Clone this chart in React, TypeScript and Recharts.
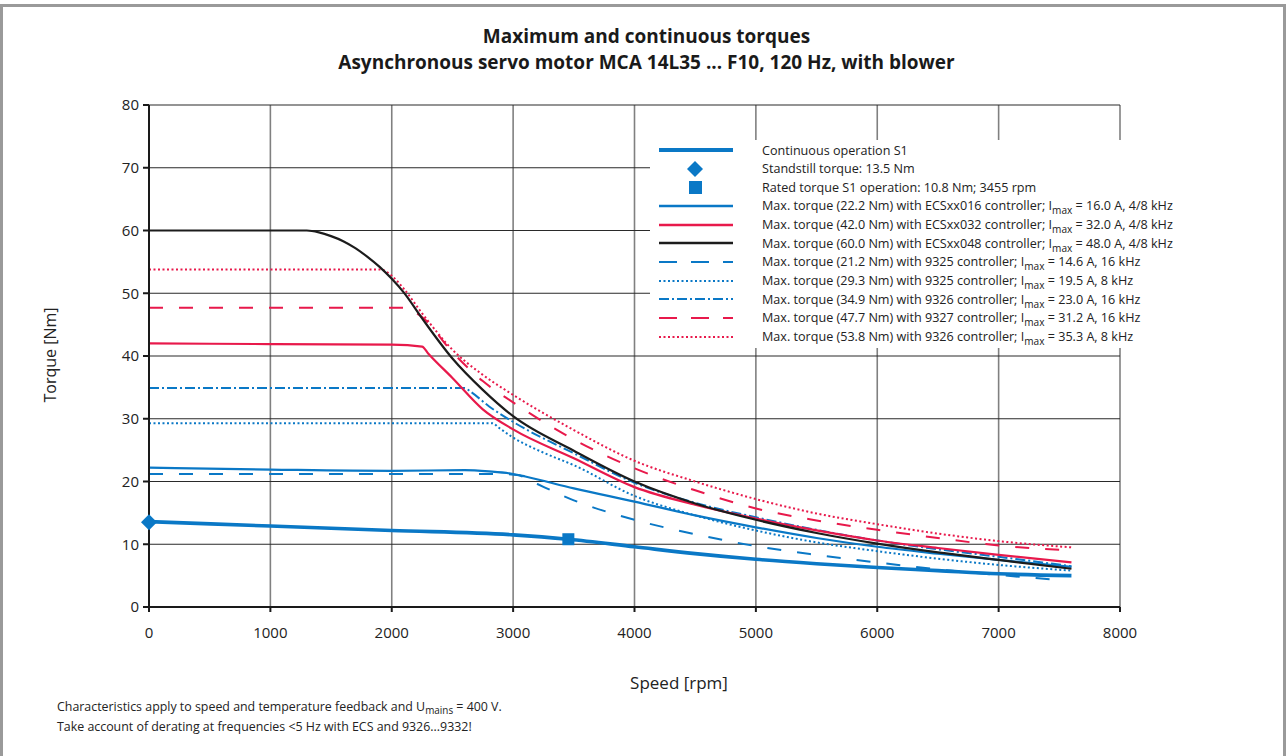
import React from 'react';
import { ComposedChart, Line, Scatter, XAxis, YAxis, CartesianGrid } from 'recharts';

// axis ticks
const speedTicks = [0, 1000, 2000, 3000, 4000, 5000, 6000, 7000, 8000];
const torqueTicks = [0, 10, 20, 30, 40, 50, 60, 70, 80];

// Continuous operation S1
const contSpeed = [0, 1000, 2000, 3000, 3455, 4000, 4500, 5000, 5500, 6000, 6500, 7000, 7600];
const contTorque = [13.6, 12.9, 12.2, 11.5, 10.8, 9.6, 8.5, 7.6, 6.9, 6.3, 5.8, 5.3, 5.0];

// markers
const standstill = [{ n: 0, t: 13.5 }];
const rated = [{ n: 3455, t: 10.8 }];

// ECSxx016, 22.2 Nm
const ecs016Speed = [0, 1000, 2000, 2600, 2800, 3000, 3100, 3500, 4000, 4500, 5000, 5500, 6000, 6500, 7000, 7600];
const ecs016Torque = [22.2, 21.9, 21.7, 21.8, 21.6, 21.2, 20.8, 18.9, 16.8, 14.6, 12.7, 11.0, 9.6, 8.5, 7.5, 6.4];

// ECSxx032, 42.0 Nm
const ecs032Speed = [0, 1000, 2000, 2250, 2300, 2500, 2750, 3000, 3500, 4000, 4500, 5000, 5500, 6000, 6500, 7000, 7600];
const ecs032Torque = [42.0, 41.9, 41.8, 41.5, 40.4, 36.5, 31.5, 28.3, 23.7, 19.1, 16.3, 14.1, 12.2, 10.6, 9.4, 8.3, 7.1];

// ECSxx048, 60.0 Nm
const ecs048Speed = [0, 1000, 1300, 1400, 1500, 1600, 1700, 1800, 1900, 2000, 2100, 2250, 2500, 2750, 3000, 3500, 4000, 4500, 5000, 5500, 6000, 6500, 7000, 7600];
const ecs048Torque = [60, 60, 60, 59.7, 59.1, 58.3, 57.2, 55.8, 54.2, 52.3, 50.1, 46.0, 39.6, 34.6, 30.4, 24.9, 20.0, 16.5, 13.9, 11.8, 10.1, 8.7, 7.5, 6.1];

// 9325, 21.2 Nm, 16 kHz
const c9325aSpeed = [0, 1000, 2000, 2900, 3050, 3100, 3200, 3500, 4000, 4500, 5000, 5500, 6000, 6500, 7000, 7500];
const c9325aTorque = [21.2, 21.2, 21.2, 21.2, 21.0, 20.5, 19.6, 17.0, 13.9, 11.6, 9.7, 8.3, 7.1, 6.0, 5.1, 4.3];

// 9325, 29.3 Nm, 8 kHz
const c9325bSpeed = [0, 1000, 2000, 2830, 2880, 3000, 3250, 3500, 4000, 4500, 5000, 5500, 6000, 6500, 7000, 7600];
const c9325bTorque = [29.3, 29.3, 29.3, 29.3, 28.6, 27.0, 24.6, 22.6, 17.7, 14.6, 12.2, 10.3, 8.9, 7.7, 6.7, 5.8];

// 9326, 34.9 Nm, 16 kHz
const c9326aSpeed = [0, 1000, 2000, 2600, 2650, 2800, 3000, 3500, 4000, 4500, 5000, 5500, 6000, 6500, 7000, 7600];
const c9326aTorque = [34.9, 34.9, 34.9, 34.9, 34.3, 32.0, 29.5, 24.5, 19.8, 16.6, 14.3, 12.3, 10.6, 9.2, 8.0, 6.5];

// 9327, 47.7 Nm, 16 kHz
const c9327Speed = [0, 1000, 2000, 2130, 2180, 2250, 2500, 2750, 3000, 3500, 4000, 4500, 5000, 5500, 6000, 6500, 7000, 7600];
const c9327Torque = [47.7, 47.7, 47.7, 47.7, 47.1, 46.2, 40.6, 36.0, 32.6, 26.7, 22.1, 18.6, 15.7, 13.8, 12.3, 11.0, 9.8, 9.0];

// 9326, 53.8 Nm, 8 kHz
const c9326bSpeed = [0, 1000, 1900, 1950, 2000, 2100, 2250, 2500, 2750, 3000, 3500, 4000, 4500, 5000, 5500, 6000, 6500, 7000, 7600];
const c9326bTorque = [53.8, 53.8, 53.8, 53.5, 52.8, 50.7, 46.8, 41.0, 37.0, 33.8, 28.2, 23.3, 20.0, 17.2, 14.9, 13.2, 11.7, 10.5, 9.5];

const pts = (speed: number[], torque: number[]) => speed.map((n, i) => ({ n, t: torque[i] }));

const BLUE = '#0a78c6';
const RED = '#e8194b';
const BLACK = '#1c1c1c';
const FONT = '"Open Sans", sans-serif';

const Diamond = (props: any) => {
  const { cx, cy } = props;
  return <polygon points={`${cx},${cy - 8} ${cx + 8},${cy} ${cx},${cy + 8} ${cx - 8},${cy}`} fill={BLUE} />;
};

const Square = (props: any) => {
  const { cx, cy } = props;
  return <rect x={cx - 6} y={cy - 6} width={12} height={12} fill={BLUE} />;
};

const Imax = () => (
  <>I<sub style={{ fontSize: '0.8em', verticalAlign: '-0.35em', lineHeight: 0 }}>max</sub></>
);

type LegendRow = { sample: React.ReactNode; text: React.ReactNode };

const lineSample = (color: string, width: number, dash?: string) => (
  <svg width={80} height={12}>
    <line x1={2} y1={6} x2={76} y2={6} stroke={color} strokeWidth={width} strokeDasharray={dash} />
  </svg>
);

const legendRows: LegendRow[] = [
  { sample: lineSample(BLUE, 4), text: 'Continuous operation S1' },
  {
    sample: (
      <svg width={80} height={18}>
        <polygon points="38,1 46,9 38,17 30,9" fill={BLUE} />
      </svg>
    ),
    text: 'Standstill torque: 13.5 Nm',
  },
  {
    sample: (
      <svg width={80} height={14}>
        <rect x={32} y={1} width={13} height={13} fill={BLUE} />
      </svg>
    ),
    text: 'Rated torque S1 operation: 10.8 Nm; 3455 rpm',
  },
  { sample: lineSample(BLUE, 2.5), text: <>Max. torque (22.2 Nm) with ECSxx016 controller; <Imax /> = 16.0 A, 4/8 kHz</> },
  { sample: lineSample(RED, 2.5), text: <>Max. torque (42.0 Nm) with ECSxx032 controller; <Imax /> = 32.0 A, 4/8 kHz</> },
  { sample: lineSample(BLACK, 2.5), text: <>Max. torque (60.0 Nm) with ECSxx048 controller; <Imax /> = 48.0 A, 4/8 kHz</> },
  { sample: lineSample(BLUE, 2, '18 14'), text: <>Max. torque (21.2 Nm) with 9325 controller; <Imax /> = 14.6 A, 16 kHz</> },
  { sample: lineSample(BLUE, 2, '2 2.5'), text: <>Max. torque (29.3 Nm) with 9325 controller; <Imax /> = 19.5 A, 8 kHz</> },
  { sample: lineSample(BLUE, 2, '10 3 2 3'), text: <>Max. torque (34.9 Nm) with 9326 controller; <Imax /> = 23.0 A, 16 kHz</> },
  { sample: lineSample(RED, 2, '18 14'), text: <>Max. torque (47.7 Nm) with 9327 controller; <Imax /> = 31.2 A, 16 kHz</> },
  { sample: lineSample(RED, 2, '2 2.5'), text: <>Max. torque (53.8 Nm) with 9326 controller; <Imax /> = 35.3 A, 8 kHz</> },
];

const App: React.FC = () => {
  return (
    <div style={{ position: 'absolute', left: 0, top: 0, width: 1287, height: 756, overflow: 'hidden', background: '#fff', fontFamily: FONT }}>
      <div style={{ position: 'absolute', left: 0, top: 4, width: 1286, height: 800, border: '3px solid #9a9a9a', boxSizing: 'border-box' }} />

      <div style={{ position: 'absolute', left: 0, top: 23, width: 1293, textAlign: 'center', fontWeight: 700, fontSize: 19, lineHeight: '26px', color: '#1a1a1a' }}>
        <div>Maximum and continuous torques</div>
        <div>Asynchronous servo motor MCA 14L35 ... F10, 120 Hz, with blower</div>
      </div>

      <div style={{ position: 'absolute', left: 0, top: 0 }}>
        <ComposedChart width={1287} height={756} margin={{ top: 105, right: 167, bottom: 119, left: 89 }}>
          <CartesianGrid horizontal={false} stroke="#808080" strokeWidth={1.6} />
          <CartesianGrid vertical={false} stroke="#2a2a2a" strokeWidth={1.2} />
          <XAxis
            type="number"
            dataKey="n"
            domain={[0, 8000]}
            ticks={speedTicks}
            height={30}
            tickSize={5}
            tickMargin={15}
            stroke="#1a1a1a"
            strokeWidth={2}
            tick={{ fontSize: 15, fill: '#222', fontFamily: FONT }}
            interval={0}
          />
          <YAxis
            type="number"
            dataKey="t"
            domain={[0, 80]}
            ticks={torqueTicks}
            width={60}
            tickSize={6}
            tickMargin={4}
            stroke="#1a1a1a"
            strokeWidth={2}
            tick={{ fontSize: 15, fill: '#222', fontFamily: FONT }}
            interval={0}
          />
          <Line data={pts(c9326bSpeed, c9326bTorque)} dataKey="t" type="monotone" stroke={RED} strokeWidth={2} strokeDasharray="2 2.5" dot={false} activeDot={false} isAnimationActive={false} />
          <Line data={pts(c9327Speed, c9327Torque)} dataKey="t" type="monotone" stroke={RED} strokeWidth={2} strokeDasharray="14 16" dot={false} activeDot={false} isAnimationActive={false} />
          <Line data={pts(c9326aSpeed, c9326aTorque)} dataKey="t" type="monotone" stroke={BLUE} strokeWidth={2} strokeDasharray="10 3 2 3" dot={false} activeDot={false} isAnimationActive={false} />
          <Line data={pts(c9325bSpeed, c9325bTorque)} dataKey="t" type="monotone" stroke={BLUE} strokeWidth={2} strokeDasharray="2 2.5" dot={false} activeDot={false} isAnimationActive={false} />
          <Line data={pts(c9325aSpeed, c9325aTorque)} dataKey="t" type="monotone" stroke={BLUE} strokeWidth={2} strokeDasharray="14 16" dot={false} activeDot={false} isAnimationActive={false} />
          <Line data={pts(ecs016Speed, ecs016Torque)} dataKey="t" type="monotone" stroke={BLUE} strokeWidth={2.2} dot={false} activeDot={false} isAnimationActive={false} />
          <Line data={pts(ecs032Speed, ecs032Torque)} dataKey="t" type="monotone" stroke={RED} strokeWidth={2.2} dot={false} activeDot={false} isAnimationActive={false} />
          <Line data={pts(ecs048Speed, ecs048Torque)} dataKey="t" type="monotone" stroke={BLACK} strokeWidth={2.2} dot={false} activeDot={false} isAnimationActive={false} />
          <Line data={pts(contSpeed, contTorque)} dataKey="t" type="monotone" stroke={BLUE} strokeWidth={3.6} dot={false} activeDot={false} isAnimationActive={false} />
          <Scatter data={standstill} dataKey="t" shape={Diamond} isAnimationActive={false} />
          <Scatter data={rated} dataKey="t" shape={Square} isAnimationActive={false} />
        </ComposedChart>
      </div>

      <div style={{ position: 'absolute', left: 650, top: 140, width: 536, height: 208, background: '#fff', fontSize: 12.6, color: '#222' }}>
        {legendRows.map((r, i) => (
          <div key={i} style={{ position: 'absolute', left: 0, top: 1 + i * 18.65, height: 18, width: 536, display: 'flex', alignItems: 'center' }}>
            <div style={{ width: 112, flex: '0 0 112px', display: 'flex', justifyContent: 'flex-start', paddingLeft: 7, boxSizing: 'border-box' }}>{r.sample}</div>
            <div style={{ whiteSpace: 'nowrap' }}>{r.text}</div>
          </div>
        ))}
      </div>

      <div style={{ position: 'absolute', left: -50, top: 340, width: 200, height: 30, transform: 'rotate(-90deg)', transformOrigin: '100px 15px', textAlign: 'center', fontSize: 16, lineHeight: '30px', color: '#222', whiteSpace: 'nowrap' }}>
        Torque [Nm]
      </div>

      <div style={{ position: 'absolute', left: 579, top: 671, width: 200, textAlign: 'center', fontSize: 17, lineHeight: '24px', color: '#222' }}>
        Speed [rpm]
      </div>

      <div style={{ position: 'absolute', left: 57, top: 697, fontSize: 12.4, lineHeight: '20px', color: '#222' }}>
        <div>
          Characteristics apply to speed and temperature feedback and U
          <sub style={{ fontSize: '0.8em', verticalAlign: '-0.35em', lineHeight: 0 }}>mains</sub> = 400 V.
        </div>
        <div>Take account of derating at frequencies &lt;5 Hz with ECS and 9326...9332!</div>
      </div>
    </div>
  );
};

export default App;
